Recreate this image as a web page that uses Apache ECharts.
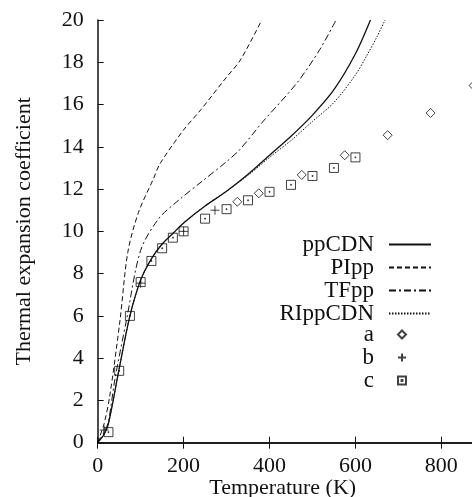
<!DOCTYPE html>
<html>
<head>
<meta charset="utf-8">
<script src="https://cdn.jsdelivr.net/npm/echarts@6/dist/echarts.min.js"></script>
<style>
  html, body { margin: 0; padding: 0; background: #fff; }
  #chart { width: 472px; height: 497px; }
</style>
</head>
<body>
<div id="chart"></div>
<script>
// curves: [temperature, coefficient]
var ppCDN = [[0,0],[15,0.4],[25,0.9],[50,3.5],[75,6.0],[100,7.7],[125,8.7],[150,9.4],[175,9.9],[200,10.4],[250,11.2],[300,11.9],[350,12.7],[400,13.6],[450,14.5],[500,15.5],[550,16.7],[600,18.4],[635,20]];
var PIpp = [[0,0],[5,0.3],[15,0.9],[28,2.2],[52,5.8],[70,9.0],[95,10.9],[130,12.5],[145,13.2],[200,14.8],[240,15.75],[300,17.3],[332,18.1],[382,20]];
var TFpp = [[0,0],[15,0.5],[25,1.0],[40,3.0],[67,5.8],[100,9.1],[142,10.6],[190,11.5],[245,12.4],[300,13.3],[330,13.85],[385,15.2],[463,17.0],[517,18.6],[555,20]];
var RIppCDN = [[0,0],[15,0.4],[25,0.9],[50,3.5],[75,6.0],[100,7.7],[125,8.7],[150,9.4],[175,9.9],[200,10.4],[250,11.2],[300,11.9],[350,12.65],[400,13.5],[450,14.3],[500,15.2],[550,16.1],[600,17.4],[626,18.3],[650,19.2],[669,20]];
// measured points
var dataA = [[325,11.4],[375,11.8],[475,12.67],[575,13.6],[675,14.55],[775,15.6],[875,16.9]];
var dataB = [[15,0.6],[100,7.55],[200,10.0],[273,11.0]];
var dataC = [[25,0.5],[50,3.4],[75,6.0],[100,7.6],[125,8.6],[150,9.2],[175,9.7],[200,10.0],[250,10.6],[300,11.05],[350,11.47],[400,11.87],[450,12.2],[500,12.62],[550,13.0],[600,13.5]];
var xTicks = [0, 200, 400, 600, 800];

var chart = echarts.init(document.getElementById('chart'));
var font = 'Liberation Serif';
var ink = '#111';

var diamondPath = 'path://M5,0L10,5L5,10L0,5Z';
var plusPath = 'path://M5,0L5,10M0,5L10,5';
var squarePath = 'path://M0,0L10,0L10,10L0,10Z M4.5,4.5L5.5,4.5L5.5,5.5L4.5,5.5Z';

function lineSeries(name, data, type, width) {
  return {
    name: name, type: 'line', data: data, smooth: 0.3,
    symbol: 'none', clip: true,
    itemStyle: { color: 'rgba(0,0,0,0)' },
    lineStyle: { color: ink, width: width, type: type }
  };
}

function markSeries(name, data, symbol, size) {
  return {
    name: name, type: 'scatter', data: data, clip: false,
    symbol: symbol, symbolSize: size,
    itemStyle: { color: 'rgba(0,0,0,0)', borderColor: ink, borderWidth: 1 }
  };
}

var option = {
  animation: false,
  backgroundColor: '#fff',
  grid: { left: 97.7, top: 20, right: -3.7, bottom: 54.3, outerBoundsMode: 'none', containLabel: false },
  legend: [{
    orient: 'vertical', right: 35, top: 228,
    align: 'right', itemWidth: 42, itemHeight: 10, itemGap: 0,
    textStyle: { fontFamily: font, fontSize: 23, color: ink, lineHeight: 22, padding: [0, 10, 0, 0] },
    data: ['ppCDN', 'PIpp', 'TFpp', 'RIppCDN']
  }, {
    orient: 'vertical', right: 60, top: 318,
    align: 'right', itemWidth: 8, itemHeight: 8, itemGap: 0,
    textStyle: { fontFamily: font, fontSize: 23, color: ink, lineHeight: 22, padding: [0, 19, 0, 0] },
    data: [
      { name: 'a', icon: diamondPath },
      { name: 'b', icon: plusPath },
      { name: 'c', icon: squarePath }
    ]
  }],
  xAxis: [{
    type: 'value', min: 0, max: 880, interval: 200,
    name: 'Temperature (K)', nameLocation: 'middle', nameGap: 35, nameMoveOverlap: false,
    nameTextStyle: { fontFamily: font, fontSize: 22, color: ink, padding: [0, 8, 0, 0] },
    axisLine: { show: true, onZero: false, lineStyle: { color: ink, width: 1.5 } },
    axisTick: { show: true, inside: true, length: 6, lineStyle: { color: ink } },
    axisLabel: {
      fontFamily: font, fontSize: 22, color: ink, margin: 13,
      formatter: function (v) { return xTicks.indexOf(v) >= 0 ? String(v) : ''; }
    },
    splitLine: { show: false }
  }, {
    type: 'value', position: 'top', min: 0, max: 880, interval: 200,
    axisLine: { show: true, lineStyle: { color: ink, width: 1.5 } },
    axisTick: { show: true, inside: true, length: 6, lineStyle: { color: ink } },
    axisLabel: { show: false },
    splitLine: { show: false }
  }],
  yAxis: {
    type: 'value', min: 0, max: 20, interval: 2,
    name: 'Thermal expansion coefficient', nameLocation: 'middle', nameGap: 62, nameMoveOverlap: false,
    nameTextStyle: { fontFamily: font, fontSize: 22, color: ink },
    axisLine: { show: true, onZero: false, lineStyle: { color: ink, width: 1.5 } },
    axisTick: { show: true, inside: true, length: 6, lineStyle: { color: ink } },
    axisLabel: { fontFamily: font, fontSize: 22, color: ink, margin: 14 },
    splitLine: { show: false }
  },
  series: [
    lineSeries('ppCDN', ppCDN, 'solid', 1.3),
    lineSeries('PIpp', PIpp, [5, 3], 1),
    lineSeries('TFpp', TFpp, [7, 3, 2, 3], 1),
    lineSeries('RIppCDN', RIppCDN, [1.5, 1.5], 1),
    markSeries('a', dataA, diamondPath, 9),
    markSeries('b', dataB, plusPath, 9),
    markSeries('c', dataC, squarePath, 9)
  ]
};

chart.setOption(option);
window.addEventListener('resize', function () { chart.resize(); });
</script>
</body>
</html>
